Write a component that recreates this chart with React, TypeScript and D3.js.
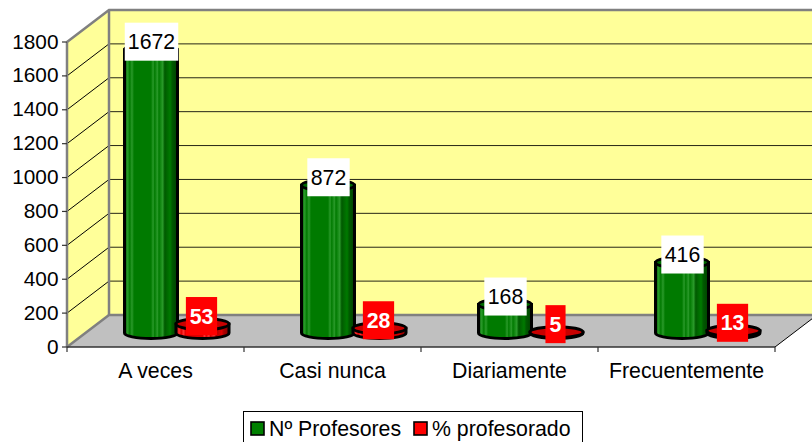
import React from "react";
import * as d3 from "d3";

const categories = ["A veces", "Casi nunca", "Diariamente", "Frecuentemente"];
const profesores = [1672, 872, 168, 416];
const porcentaje = [53, 28, 5, 13];
const yTicks = [0, 200, 400, 600, 800, 1000, 1200, 1400, 1600, 1800];
const seriesNames = ["Nº Profesores", "% profesorado"];

const W = 812, H = 442;
const FONT = "'Liberation Sans', Arial, sans-serif";
const FS = 21.3;
const x0 = 67, x1 = 775;
const dx = 42, dy = -32;
const y = d3.scaleLinear().domain([0, 1800]).range([347, 42]);
const x = d3.scaleBand<string>().domain(categories).range([x0, x1]);
const baseLift = 14;
const r = 26.5, ry = 5.5;

function cyl(cx: number, value: number) {
  const b = y(0) - baseLift;
  const t = y(value) - baseLift;
  return {
    side: `M${cx - r},${t} L${cx - r},${b} A${r},${ry} 0 0 0 ${cx + r},${b} L${cx + r},${t} Z`,
    top: t,
  };
}

function stops(light: string, mid: string, dark: string, deep: string) {
  const s: [number, string][] = [
    [0, dark], [0.06, light], [0.1, mid], [0.14, light], [0.18, mid], [0.5, mid],
    [0.54, light], [0.57, mid], [0.62, light], [0.65, mid], [0.72, light], [0.76, dark], [0.86, mid], [0.9, dark], [1, deep],
  ];
  return s.map(([o, c], i) => <stop key={i} offset={o} stopColor={c} />);
}

function Series({ values, off, labelOff, grad, topFill, box, color, weight }: any) {
  return (
    <g>
      {values.map((v: number, i: number) => {
        const cx = x(categories[i])! + x.bandwidth() / 2 + off;
        const c = cyl(cx, v);
        return (
          <g key={i}>
            <path d={c.side} fill={`url(#${grad})`} stroke="#000" strokeWidth={3} />
            <ellipse cx={cx} cy={c.top} rx={r} ry={ry} fill={topFill} stroke="#000" strokeWidth={3} />
          </g>
        );
      })}
      {values.map((v: number, i: number) => {
        const cx = x(categories[i])! + x.bandwidth() / 2 + off + labelOff;
        const c = cyl(cx, v);
        const w = 9 + 11.12 * String(v).length;
        const cy = c.top - 8;
        return (
          <g key={i}>
            <rect x={cx - w / 2} y={cy - 19} width={w} height={38} fill={box} />
            <text x={cx} y={cy + 7.5} textAnchor="middle" fontFamily={FONT} fontSize={FS} fontWeight={weight} fill={color}>{v}</text>
          </g>
        );
      })}
    </g>
  );
}

export default function App() {
  const fl = y(0);
  const top = y(1800);
  return (
    <svg width={W} height={H} viewBox={`0 0 ${W} ${H}`} style={{ position: "fixed", left: 0, top: 0, background: "#fff" }}>
      <defs>
        <linearGradient id="gGreen">{stops("#2a9a2a", "#007a00", "#005a00", "#004000")}</linearGradient>
        <linearGradient id="gRed">{stops("#ff3030", "#e00000", "#b00000", "#800000")}</linearGradient>
      </defs>
      {/* walls and floor */}
      <polygon points={`${x0 + dx},${top + dy} ${W + 50},${top + dy} ${W + 50},${fl + dy} ${x0 + dx},${fl + dy}`} fill="#FFFF99" />
      <polygon points={`${x0},${top} ${x0 + dx},${top + dy} ${x0 + dx},${fl + dy} ${x0},${fl}`} fill="#FFFF99" />
      <polygon points={`${x0},${fl} ${x1},${fl} ${x1 + dx},${fl + dy} ${x0 + dx},${fl + dy}`} fill="#C0C0C0" />
      {yTicks.slice(1, -1).map((t) => (
        <g key={t}>
          <line x1={x0} y1={y(t)} x2={x0 + dx} y2={y(t) + dy} stroke="#000" strokeWidth={1} />
          <line x1={x0 + dx} y1={y(t) + dy} x2={W + 50} y2={y(t) + dy} stroke="#000" strokeWidth={1} opacity={0.85} />
        </g>
      ))}
      <g fill="none" stroke="#808080" strokeWidth={2.5}>
        <path d={`M${x0},${top} L${x0 + dx},${top + dy} L${W + 50},${top + dy}`} />
        <path d={`M${x0 + dx},${top + dy} L${x0 + dx},${fl + dy}`} />
        <path d={`M${x0},${fl} L${x0 + dx},${fl + dy} L${W + 50},${fl + dy}`} />
        <path d={`M${x0},${top} L${x0},${fl}`} />
      </g>
      <path d={`M${x1},${fl} L${x1 + dx},${fl + dy}`} stroke="#000" strokeWidth={1} fill="none" />
      {/* axes */}
      <line x1={x0} y1={fl} x2={x1} y2={fl} stroke="#333" strokeWidth={1.5} />
      {yTicks.map((t) => (
        <g key={t}>
          <line x1={x0 - 5} y1={y(t)} x2={x0} y2={y(t)} stroke="#333" strokeWidth={1.2} />
          <text x={x0 - 8.5} y={y(t) + 6.5} textAnchor="end" fontFamily={FONT} fontSize={20.8} fill="#000">{t}</text>
        </g>
      ))}
      {categories.map((c) => (
        <line key={c} x1={x(c)} y1={fl} x2={x(c)} y2={fl + 5} stroke="#333" strokeWidth={1.2} />
      ))}
      <line x1={x1} y1={fl} x2={x1} y2={fl + 5} stroke="#333" strokeWidth={1.2} />
      {categories.map((c) => (
        <text key={c} x={x(c)! + x.bandwidth() / 2} y={377.5} textAnchor="middle" fontFamily={FONT} fontSize={FS} fill="#000">{c}</text>
      ))}
      {/* series */}
      <Series values={profesores} off={-4.5} labelOff={0.5} grad="gGreen" topFill="#006a00" box="#fff" color="#000" weight="normal" />
      <Series values={porcentaje} off={47} labelOff={-1} grad="gRed" topFill="#c80000" box="#f00" color="#fff" weight="bold" />
      {/* legend */}
      <rect x={243.5} y={411.5} width={339} height={40} fill="#fff" stroke="#000" strokeWidth={1} />
      <rect x={251} y={422} width={13} height={13} fill="#008000" stroke="#000" strokeWidth={1.6} />
      <text x={269} y={436} fontFamily={FONT} fontSize={FS} fill="#000">{seriesNames[0]}</text>
      <rect x={414} y={422} width={13} height={13} fill="#f00" stroke="#000" strokeWidth={1.6} />
      <text x={432} y={436} fontFamily={FONT} fontSize={FS} fill="#000">{seriesNames[1]}</text>
    </svg>
  );
}
